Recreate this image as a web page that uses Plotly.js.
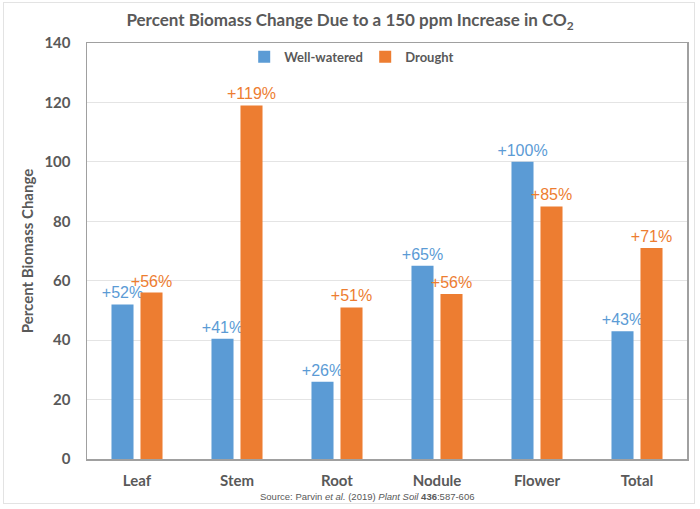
<!DOCTYPE html>
<html>
<head>
<meta charset="utf-8">
<script src="https://cdn.plot.ly/plotly-3.0.1.min.js"></script>
<style>
body{margin:0;padding:0;background:#fff;}
#wrap{position:relative;width:700px;height:509px;}
#chart{width:700px;height:509px;}
#frame{position:absolute;left:3px;top:2px;width:692px;height:502px;border:1px solid #E3E3E3;pointer-events:none;box-sizing:border-box;}
</style>
</head>
<body>
<div id="wrap"><div id="chart"></div><div id="frame"></div></div>
<script>
const categories = ["Leaf", "Stem", "Root", "Nodule", "Flower", "Total"];
const wellWatered = [52, 40.5, 26, 65, 100, 43];
const drought = [56, 119, 51, 55.5, 85, 71];
const wellWateredLabels = ["+52%", "+41%", "+26%", "+65%", "+100%", "+43%"];
const droughtLabels = ["+56%", "+119%", "+51%", "+56%", "+85%", "+71%"];
const yTicks = [0, 20, 40, 60, 80, 100, 120, 140];

const blue = "#5B9BD5", orange = "#ED7D31", grey = "#595959";
const labFont = "Liberation Sans, Arial, sans-serif";
const mainFont = "Lato, Open Sans, sans-serif";

const traces = [
  {type:"bar", name:"<b>Well-watered</b>", x:categories, y:wellWatered, text:wellWateredLabels,
   textposition:"outside", constraintext:"none", cliponaxis:false, marker:{color:blue},
   textfont:{family:labFont, size:16, color:blue}, hoverinfo:"none"},
  {type:"bar", name:"<b>Drought</b>", x:categories, y:drought, text:droughtLabels,
   textposition:"outside", constraintext:"none", cliponaxis:false, marker:{color:orange},
   textfont:{family:labFont, size:16, color:orange}, hoverinfo:"none"}
];

const layout = {
  width:700, height:509,
  margin:{l:87, r:13, t:43, b:50},
  paper_bgcolor:"#fff", plot_bgcolor:"#fff",
  font:{family:mainFont, color:grey},
  title:{text:"<b>Percent Biomass Change Due to a 150 ppm Increase in CO<sub>2</sub></b>",
         x:0.5, xanchor:"center", y:0.96, yanchor:"middle", font:{size:17, color:grey, family:mainFont}},
  barmode:"group", bargap:0.42, bargroupgap:0.24,
  showlegend:true,
  legend:{orientation:"h", x:0.262, y:1.003, xanchor:"left", yanchor:"top",
          font:{size:13, color:grey, family:mainFont}, itemwidth:30, traceorder:"normal",
          entrywidth:76, entrywidthmode:"pixels",
          bgcolor:"rgba(0,0,0,0)"},
  xaxis:{type:"category", showline:true, mirror:true, linecolor:"#A0A0A0", linewidth:1.5,
         ticks:"", tickfont:{size:15, color:grey, family:mainFont, weight:"bold"}, ticklabelstandoff:7,
         showgrid:false, zeroline:false},
  yaxis:{range:[0,140], tickvals:yTicks, ticktext:yTicks.map(String),
         showline:true, mirror:true, linecolor:"#A0A0A0", linewidth:1.5,
         showgrid:true, gridcolor:"#E4E4E4", gridwidth:1, zeroline:false, ticks:"",
         tickfont:{size:15, color:grey, family:mainFont, weight:"bold"}, ticklabelstandoff:12,
         title:{text:"<b>Percent Biomass Change</b>", font:{size:15, color:grey, family:mainFont}, standoff:7}},
  annotations:[
    {xref:"paper", yref:"paper", x:0.467, y:-0.072, xanchor:"center", yanchor:"top", showarrow:false,
     text:"Source: Parvin <i>et al.</i> (2019) <i>Plant Soil</i> <b>436</b>:587-606",
     font:{size:9.5, color:grey, family:labFont}}
  ]
};

Plotly.newPlot("chart", traces, layout, {displayModeBar:false, staticPlot:true});
</script>
</body>
</html>
